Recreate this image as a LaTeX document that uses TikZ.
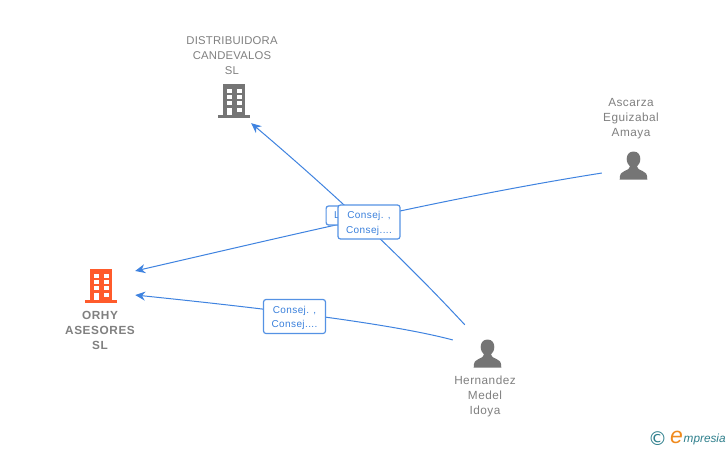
\documentclass[tikz,border=0pt]{standalone}
\usepackage{fontspec}
\setmainfont{Liberation Sans}
\newfontfamily\logofont{DejaVu Sans}
\usetikzlibrary{arrows.meta}
\definecolor{edgeblue}{HTML}{3F83E0}
\definecolor{boxblue}{HTML}{5592E4}
\definecolor{labelblue}{HTML}{3A80DC}
\definecolor{greytext}{HTML}{808080}
\definecolor{icongrey}{HTML}{757575}
\definecolor{orhy}{HTML}{FF5B2B}
\definecolor{logoteal}{HTML}{2E7F8C}
\definecolor{logoorange}{HTML}{F08A1D}
\tikzset{
  x=1pt,y=-1pt,
  edgeline/.style={draw=edgeblue,line width=1pt},
  arrowedge/.style={edgeline,-{Stealth[length=10pt,width=9pt]}},
  lbl/.style={draw=boxblue,fill=white,rounded corners=2.5pt,line width=1.2pt,text=labelblue,
    font=\fontsize{10}{14.5}\selectfont\addfontfeature{LetterSpace=4},align=center,inner sep=0pt,minimum height=34pt},
  entname/.style={text=greytext,font=\fontsize{11.8}{15.1}\selectfont\addfontfeature{LetterSpace=4},align=center,inner sep=0pt},
  capsname/.style={text=greytext,font=\fontsize{11.3}{15.1}\selectfont\addfontfeature{LetterSpace=2},align=center,inner sep=0pt},
  boldname/.style={text=greytext,font=\fontsize{11.8}{15.1}\selectfont\bfseries\addfontfeature{LetterSpace=5},align=center,inner sep=0pt},
  anchorpt/.style={inner sep=0pt,minimum size=0pt},
  pics/building/.style={code={
    \fill[#1] (-11,-17) rectangle (11,15);
    \fill[#1] (-16,14) rectangle (16,17);
    \fill[white] (-7.3,-12.5) rectangle (-2,-8);
    \fill[white] (2.7,-12.5) rectangle (8,-8);
    \fill[white] (-7.3,-6) rectangle (-2,-2);
    \fill[white] (2.7,-6) rectangle (8,-2);
    \fill[white] (-7.3,0) rectangle (-2,4);
    \fill[white] (2.7,0) rectangle (8,4);
    \fill[white] (-7.3,6.5) rectangle (-2,14);
    \fill[white] (2.7,6.5) rectangle (8,10.5);
  }},
  pics/person/.style={code={
    \fill[icongrey] (0,-14.5) .. controls (-5,-14.5) and (-6.8,-10.5) .. (-6.8,-7)
      .. controls (-6.8,-3.5) and (-5,-1) .. (-3.5,0.5)
      .. controls (-3.5,3) and (-6,3.5) .. (-9,5)
      .. controls (-12,6.2) and (-13.8,7.5) .. (-13.8,13.5)
      -- (13.8,13.5)
      .. controls (13.8,7.5) and (12,6.2) .. (9,5)
      .. controls (6,3.5) and (3.5,3) .. (3.5,0.5)
      .. controls (5,-1) and (6.8,-3.5) .. (6.8,-7)
      .. controls (6.8,-10.5) and (5,-14.5) .. (0,-14.5) -- cycle;
  }}
}
\begin{document}
\begin{tikzpicture}
\useasboundingbox (0,0) rectangle (728,450);
\fill[white] (0,0) rectangle (728,450);

% anchor points of the entities
\node[anchorpt] (distin) at (251,123) {};
\node[anchorpt] (orhyA) at (135,271) {};
\node[anchorpt] (orhyB) at (135,295) {};
\node[anchorpt] (ascout) at (602,173) {};
\node[anchorpt] (herA) at (465,325) {};
\node[anchorpt] (herB) at (453,340) {};

% connectors
\draw[arrowedge] (herA) .. controls (402,257) and (330,190) .. (distin);
\draw[arrowedge] (ascout) .. controls (450,197) and (300,233) .. (orhyA);
\draw[arrowedge] (herB) .. controls (400,326) and (300,312) .. (orhyB);

% labels
\node[lbl,minimum width=22pt,minimum height=19pt,anchor=west,font=\fontsize{10}{11}\selectfont,text width=20pt,align=left] (lblL) at (325.5,215.5) {\hspace{7pt}L};
\node[lbl,minimum width=62pt] (lblA) at (369,222) {\rule{0pt}{10pt}Consej. ,\\Consej....};
\node[lbl,minimum width=62pt] (lblB) at (294.5,316.5) {\rule{0pt}{10pt}Consej. ,\\Consej....};

% icons
\pic at (234,101) {building=icongrey};
\pic at (101,286) {building=orhy};
\pic at (633.5,166) {person};
\pic at (487.5,354) {person};

% names
\node[capsname] (dist) at (232,56) {DISTRIBUIDORA\\CANDEVALOS\\SL};
\node[boldname] (orhyname) at (100,330.5) {ORHY\\ASESORES\\SL};
\node[entname] (asc) at (631,119) {Ascarza\\Eguizabal\\Amaya};
\node[entname] (her) at (485,396.5) {Hernandez\\Medel\\Idoya};

% logo
\node[inner sep=0pt,text=logoteal,font=\logofont\fontsize{19}{19}\selectfont] (copy) at (657.5,438.5) {©};
\node[inner sep=0pt,text=logoorange,font=\itshape\fontsize{23}{23}\selectfont] (loge) at (676.5,437.5) {e};
\node[inner sep=0pt,anchor=west,text=logoteal,font=\itshape\fontsize{11.8}{12}\selectfont] (logt) at (683.5,439) {mpresia};
\end{tikzpicture}
\end{document}
